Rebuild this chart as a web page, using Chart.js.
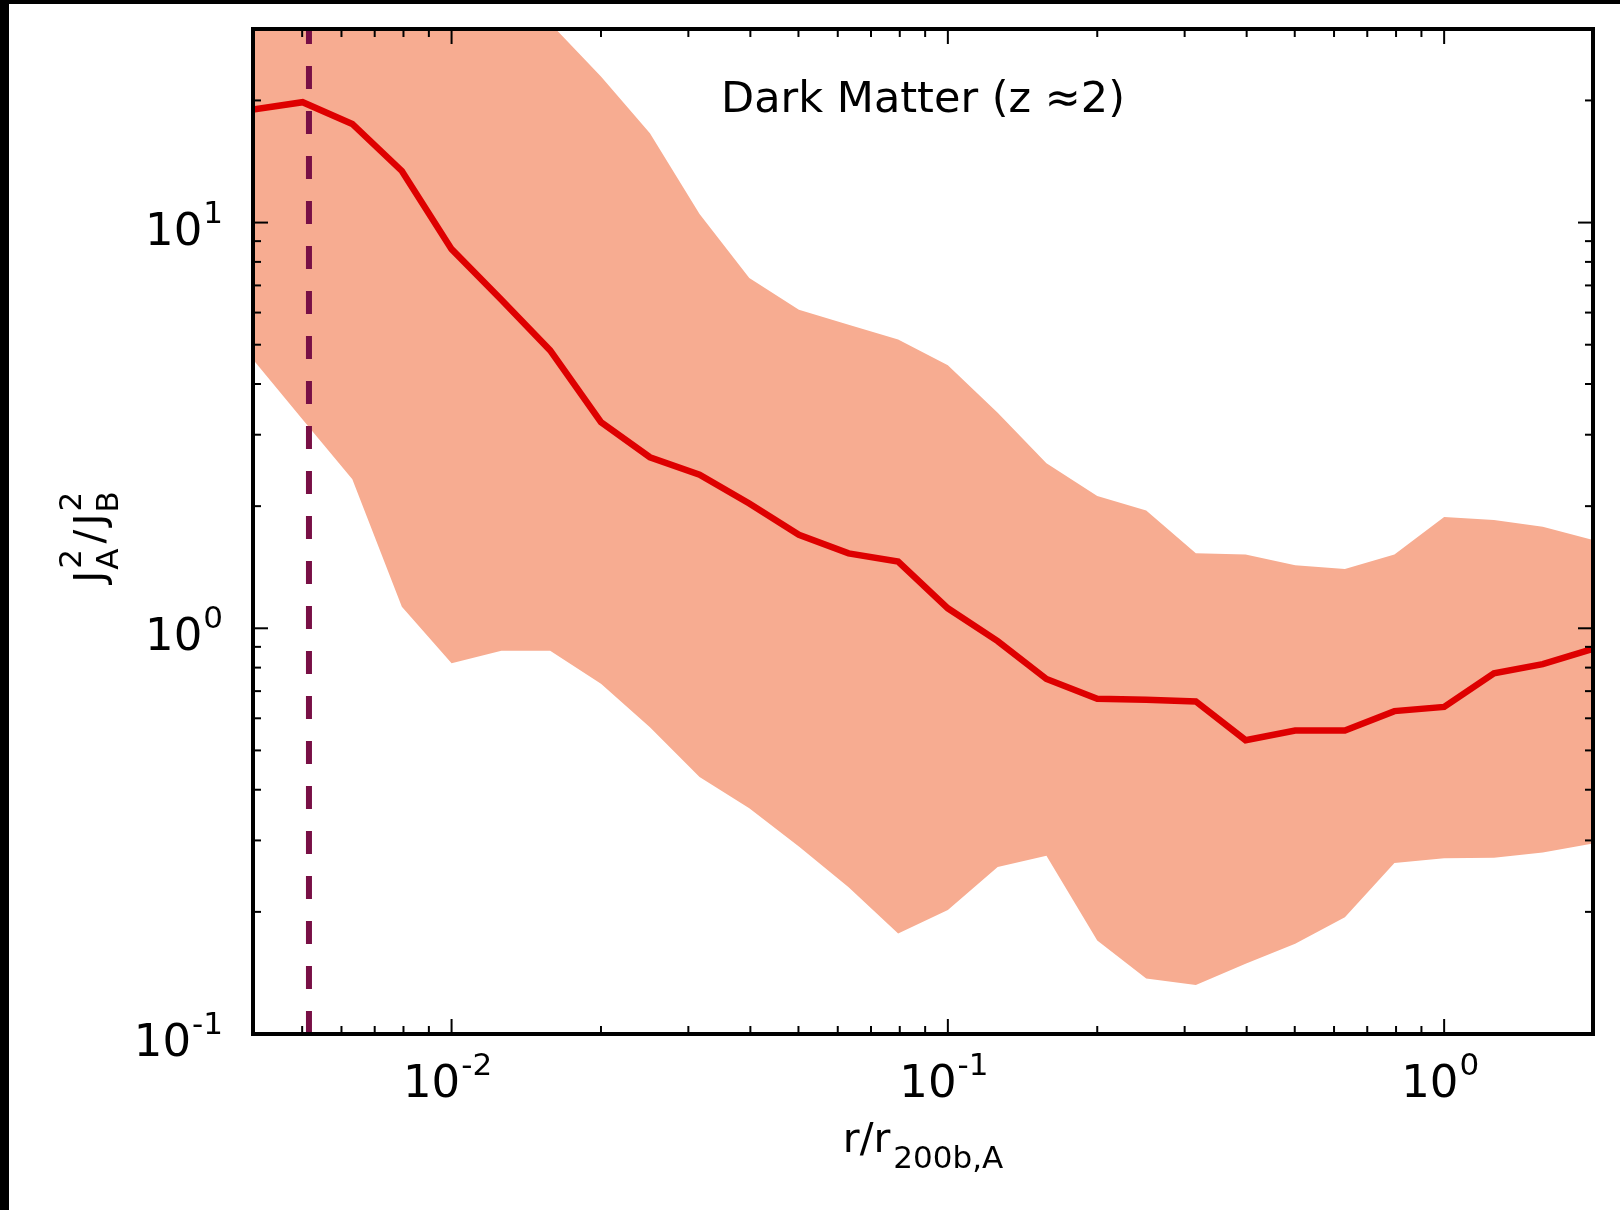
<!DOCTYPE html>
<html>
<head>
<meta charset="utf-8">
<script src="https://cdn.jsdelivr.net/npm/chart.js@4.4.0/dist/chart.umd.min.js"></script>
<style>
  html, body { margin: 0; padding: 0; background: #fff; }
  canvas { display: block; }
</style>
</head>
<body>
<canvas id="chart" width="1620" height="1210" style="width:1620px;height:1210px"></canvas>
<script>
// radial bins, r / r_200b,A (0.1 dex steps)
const rBins = [0.00398, 0.00501, 0.00631, 0.00794, 0.0100, 0.0126, 0.0158, 0.0200, 0.0251, 0.0316,
               0.0398, 0.0501, 0.0631, 0.0794, 0.100, 0.126, 0.158, 0.200, 0.251, 0.316,
               0.398, 0.501, 0.631, 0.794, 1.00, 1.26, 1.58, 1.995];
// median J_A^2 / J_B^2
const median = [19.0, 19.8, 17.5, 13.4, 8.6, 6.45, 4.84, 3.22, 2.64, 2.39,
                2.03, 1.70, 1.53, 1.46, 1.12, 0.93, 0.75, 0.67, 0.667, 0.66,
                0.53, 0.56, 0.56, 0.625, 0.64, 0.775, 0.816, 0.89];
// scatter band, upper edge (runs off the top at small r)
const upper = [70, 70, 65, 60, 52, 42, 31, 22.9, 16.6, 10.5,
               7.3, 6.1, 5.6, 5.15, 4.45, 3.4, 2.55, 2.12, 1.95, 1.53,
               1.52, 1.43, 1.40, 1.52, 1.88, 1.85, 1.78, 1.65];
// scatter band, lower edge
const lower = [4.6, 3.27, 2.33, 1.13, 0.82, 0.88, 0.88, 0.73, 0.57, 0.43,
               0.36, 0.29, 0.23, 0.177, 0.202, 0.258, 0.275, 0.17, 0.137, 0.132,
               0.149, 0.167, 0.194, 0.264, 0.271, 0.272, 0.28, 0.295];
// resolution limit
const rLimit = 0.00516;

const xTickVals = [0.01, 0.1, 1];
const xTickExps = ['-2', '-1', '0'];
const yTickVals = [0.1, 1, 10];
const yTickExps = ['-1', '0', '1'];

const titleText = 'Dark Matter (z \u22482)';

const FONT = '"DejaVu Sans", sans-serif';
Chart.defaults.font.family = FONT;

function pts(vals) {
  return rBins.map((r, i) => ({x: r, y: vals[i]}));
}

// "10" with a raised exponent
function powLabel(ctx, x, y, exp, align) {
  ctx.font = '45px ' + FONT;
  const wb = ctx.measureText('10').width;
  ctx.font = '31px ' + FONT;
  const we = ctx.measureText(exp).width;
  const total = wb + we + 1;
  const x0 = align === 'right' ? x - total : x - total / 2;
  ctx.font = '45px ' + FONT;
  ctx.fillText('10', x0, y);
  ctx.font = '31px ' + FONT;
  ctx.fillText(exp, x0 + wb + 1, y - 22);
}

function isWhole(v) {
  const m = v / Math.pow(10, Math.floor(Math.log10(v) + 1e-9));
  return Math.abs(m - Math.round(m)) < 1e-6 ? Math.round(m) : 0;
}

const framePlugin = {
  id: 'frame',
  afterDraw(chart) {
    const {ctx, chartArea: a, scales: {x, y}} = chart;
    ctx.save();

    // black strips of the scanned figure
    ctx.fillStyle = '#000';
    ctx.fillRect(0, 0, chart.width, 4);
    ctx.fillRect(0, 0, 9, chart.height);

    // inward ticks on all four sides
    ctx.strokeStyle = '#000';
    ctx.lineWidth = 2;
    const seg = (x1, y1, x2, y2) => { ctx.beginPath(); ctx.moveTo(x1, y1); ctx.lineTo(x2, y2); ctx.stroke(); };
    x.ticks.forEach(t => {
      const m = isWhole(t.value);
      if (!m) return;
      const len = m === 1 ? 15 : 8;
      const px = x.getPixelForValue(t.value);
      seg(px, a.bottom, px, a.bottom - len);
      seg(px, a.top, px, a.top + len);
    });
    y.ticks.forEach(t => {
      const m = isWhole(t.value);
      if (!m) return;
      const len = m === 1 ? 15 : 8;
      const py = y.getPixelForValue(t.value);
      seg(a.left, py, a.left + len, py);
      seg(a.right, py, a.right - len, py);
    });

    ctx.lineWidth = 4;
    ctx.strokeRect(a.left, a.top, a.right - a.left, a.bottom - a.top);

    // tick labels
    ctx.fillStyle = '#000';
    ctx.textAlign = 'left';
    ctx.textBaseline = 'alphabetic';
    xTickVals.forEach((v, i) => powLabel(ctx, x.getPixelForValue(v) - 4, a.bottom + 63, xTickExps[i], 'center'));
    yTickVals.forEach((v, i) => powLabel(ctx, a.left - 30, y.getPixelForValue(v) + 22, yTickExps[i], 'right'));

    // title inside the axes
    ctx.font = '43px ' + FONT;
    ctx.textAlign = 'center';
    ctx.fillText(titleText, (a.left + a.right) / 2, a.top + 83);

    // x axis label: r/r_200b,A
    ctx.textAlign = 'left';
    ctx.font = '41px ' + FONT;
    const wMain = ctx.measureText('r/r').width;
    ctx.font = '31px ' + FONT;
    const wSub = ctx.measureText('200b,A').width;
    let xl = (a.left + a.right) / 2 - (wMain + wSub + 3) / 2;
    ctx.font = '41px ' + FONT;
    ctx.fillText('r/r', xl, a.bottom + 118);
    ctx.font = '31px ' + FONT;
    ctx.fillText('200b,A', xl + wMain + 3, a.bottom + 134);

    // y axis label: J_A^2 / J_B^2, rotated
    ctx.translate(103, (a.top + a.bottom) / 2 + 6);
    ctx.rotate(-Math.PI / 2);
    const parts = [['J', 'A'], ['/', null], ['J', 'B']];
    ctx.font = '41px ' + FONT;
    const wJ = ctx.measureText('J').width;
    const wS = ctx.measureText('/').width;
    ctx.font = '31px ' + FONT;
    const wA = Math.max(ctx.measureText('A').width, ctx.measureText('2').width);
    const wB = Math.max(ctx.measureText('B').width, ctx.measureText('2').width);
    const full = wJ + wA + 6 + wS + 4 + wJ + wB;
    let cx = -full / 2;
    parts.forEach(([main, sub]) => {
      ctx.font = '41px ' + FONT;
      ctx.fillText(main, cx, 0);
      cx += ctx.measureText(main).width + (sub ? 1 : 4);
      if (sub) {
        ctx.font = '31px ' + FONT;
        ctx.fillText('2', cx + 1, -22);
        ctx.fillText(sub, cx, 15);
        cx += Math.max(ctx.measureText(sub).width, ctx.measureText('2').width) + 5;
      }
    });

    ctx.restore();
  }
};

const chart = new Chart(document.getElementById('chart'), {
  type: 'line',
  data: {
    datasets: [
      {
        label: 'limit',
        data: [{x: rLimit, y: 0.1}, {x: rLimit, y: 30}],
        borderColor: '#780f45',
        borderWidth: 6,
        borderDash: [23, 22],
        pointRadius: 0,
        fill: false,
        order: 0
      },
      {
        label: 'median',
        data: pts(median),
        borderColor: '#de0000',
        borderWidth: 6.5,
        pointRadius: 0,
        tension: 0,
        fill: false,
        order: 1
      },
      {
        label: 'upper',
        data: pts(upper),
        borderColor: 'rgba(0,0,0,0)',
        borderWidth: 0,
        pointRadius: 0,
        tension: 0,
        backgroundColor: '#f7ac91',
        fill: '+1',
        order: 2
      },
      {
        label: 'lower',
        data: pts(lower),
        borderColor: 'rgba(0,0,0,0)',
        borderWidth: 0,
        pointRadius: 0,
        tension: 0,
        fill: false,
        order: 3
      }
    ]
  },
  options: {
    responsive: false,
    animation: false,
    devicePixelRatio: 1,
    layout: { padding: { top: 29, right: 27, left: 0, bottom: 0 } },
    plugins: {
      legend: { display: false },
      tooltip: { enabled: false }
    },
    scales: {
      x: {
        type: 'logarithmic',
        min: 0.00398,
        max: 1.995,
        grid: { display: false },
        border: { display: false },
        ticks: { display: false, autoSkip: false },
        afterFit(s) { s.height = 176; }
      },
      y: {
        type: 'logarithmic',
        min: 0.1,
        max: 30,
        grid: { display: false },
        border: { display: false },
        ticks: { display: false, autoSkip: false },
        afterFit(s) { s.width = 253; }
      }
    }
  },
  plugins: [framePlugin]
});
</script>
</body>
</html>
